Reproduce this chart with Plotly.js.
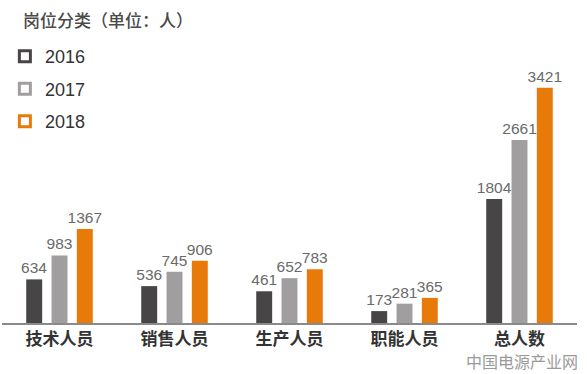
<!DOCTYPE html>
<html>
<head>
<meta charset="utf-8">
<script src="https://cdn.plot.ly/plotly-3.0.1.min.js"></script>
<style>html,body{margin:0;padding:0;background:#fff;}#chart{width:587px;height:374px;}</style>
</head>
<body>
<div id="chart"></div>
<script>
const categories = ["技术人员", "销售人员", "生产人员", "职能人员", "总人数"];
const years = ["2016", "2017", "2018"];
const v2016 = [634, 536, 461, 173, 1804];
const v2017 = [983, 745, 652, 281, 2661];
const v2018 = [1367, 906, 783, 365, 3421];
const colors = ["#474546", "#a09e9f", "#e87a0a"];
const series = [v2016, v2017, v2018];
const FONT = '"Noto Sans CJK SC", "Noto Sans", sans-serif';
const NUMFONT = '"Liberation Sans", "Noto Sans CJK SC", sans-serif';

const traces = [];
series.forEach((vals, i) => {
  traces.push({
    type: 'bar', x: categories, y: vals, name: years[i],
    marker: {color: colors[i]},
    text: vals.map(String), textposition: 'outside', constraintext: 'none',
    textfont: {family: NUMFONT, size: 15.5, color: '#6a6a6a'},
    cliponaxis: false, showlegend: false, hoverinfo: 'skip'
  });
});
series.forEach((vals, i) => {
  traces.push({
    type: 'scatter', mode: 'markers', x: [null], y: [null], name: years[i],
    legendgroup: 'g' + i,
    marker: {symbol: 'square-open', size: 11, color: colors[i], line: {width: 3, color: colors[i]}},
    showlegend: true
  });
});

const layout = {
  width: 587, height: 374,
  margin: {l: 2, r: 10, t: 10, b: 51},
  paper_bgcolor: '#fff', plot_bgcolor: '#fff',
  barmode: 'group', bargap: 0.34, bargroupgap: 0.37,
  showlegend: true,
  legend: {x: 0.005, xanchor: 'left', y: 0.91, yanchor: 'top', tracegroupgap: 6,
           font: {family: NUMFONT, size: 18, color: '#333'}, bgcolor: 'rgba(0,0,0,0)'},
  title: {text: '岗位分类（单位：人）', x: 23/587, xanchor: 'left', xref: 'container',
          y: 1 - 21/374, yanchor: 'middle', yref: 'container',
          font: {family: FONT, size: 17, color: '#4a4a4a', weight: 500}},
  xaxis: {showline: true, linecolor: '#8a8a8a', linewidth: 1.5, ticks: '', showgrid: false,
          tickfont: {family: FONT, size: 17, color: '#333', weight: 'bold'}, zeroline: false,
          fixedrange: true},
  yaxis: {range: [0, 4550], visible: false, showgrid: false, zeroline: false, fixedrange: true},
  annotations: [{text: '中国电源产业网', xref: 'paper', yref: 'paper', x: 1.004, xanchor: 'right',
                 y: -0.121, yanchor: 'middle', showarrow: false, borderpad: 0,
                 font: {family: FONT, size: 16, color: '#9a9a9a'}}]
};
Plotly.newPlot('chart', traces, layout, {displayModeBar: false, staticPlot: true});
</script>
</body>
</html>
